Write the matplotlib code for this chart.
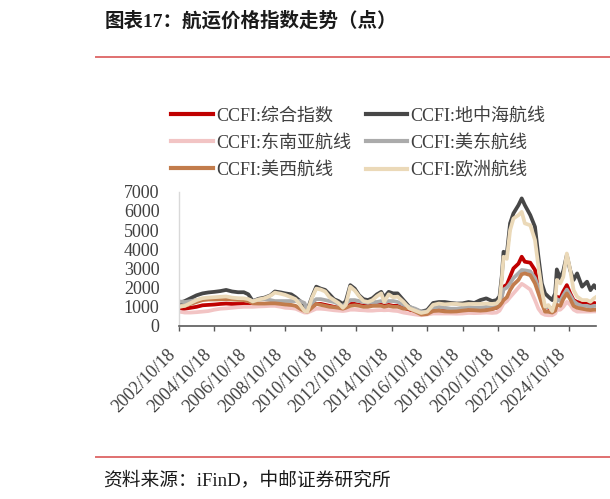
import matplotlib
matplotlib.use("Agg")
import matplotlib.pyplot as plt
import pandas as pd
from matplotlib.lines import Line2D

plt.rcParams['font.family'] = ['Liberation Serif', 'Noto Sans CJK SC', 'DejaVu Sans']

# ---------------- data ----------------
dates = ['2002-10-18', '2003-02-15', '2003-06-15', '2003-10-15', '2004-02-15', '2004-06-15',
         '2004-10-15', '2005-02-15', '2005-06-15', '2005-10-15', '2006-02-15', '2006-06-15',
         '2006-09-15', '2006-12-15', '2007-04-15', '2007-08-15', '2007-12-15', '2008-03-15',
         '2008-07-15', '2008-10-15', '2009-02-15', '2009-05-15', '2009-08-15', '2009-11-15',
         '2010-01-15', '2010-04-15', '2010-07-15', '2010-10-15', '2011-01-15', '2011-04-15',
         '2011-07-15', '2011-10-15', '2012-01-15', '2012-03-15', '2012-06-15', '2012-09-15',
         '2012-12-15', '2013-03-15', '2013-06-15', '2013-09-15', '2013-12-15', '2014-03-15',
         '2014-05-15', '2014-08-15', '2014-11-15', '2015-02-15', '2015-06-15', '2015-10-15',
         '2016-02-15', '2016-06-15', '2016-10-15', '2017-02-15', '2017-06-15', '2017-10-15',
         '2018-02-15', '2018-06-15', '2018-10-15', '2019-02-15', '2019-06-15', '2019-10-15',
         '2020-02-15', '2020-06-15', '2020-09-15', '2020-11-15', '2020-12-31', '2021-02-05',
         '2021-04-15', '2021-06-20', '2021-08-28', '2021-12-10', '2022-02-15', '2022-04-20',
         '2022-08-10', '2022-11-15', '2023-01-25', '2023-04-05', '2023-06-10', '2023-08-18',
         '2023-11-05', '2024-01-05', '2024-02-08', '2024-04-20', '2024-06-20', '2024-09-01',
         '2024-11-10', '2025-01-18', '2025-04-01', '2025-07-12', '2025-10-22', '2026-01-01',
         '2026-03-15', '2026-04-20']

ccfi_composite = [850, 900, 950, 1000, 1080, 1100, 1120, 1150, 1170, 1150, 1150, 1150,
                  1120, 1080, 1100, 1100, 1120, 1130, 1100, 1080, 1050, 1000, 900, 820,
                  780, 1000, 1150, 1150, 1100, 1050, 1000, 950, 900, 950, 1150, 1150,
                  1100, 1050, 1050, 1080, 1100, 1120, 1050, 1100, 1050, 1050, 950, 850,
                  720, 650, 680, 800, 820, 800, 800, 800, 820, 850, 830, 850,
                  880, 900, 950, 1050, 1600, 2050, 2150, 2570, 3000, 3250, 3610, 3350,
                  3300, 2920, 2050, 1300, 1000, 950, 880, 1100, 1530, 1450, 1800, 2130,
                  1700, 1350, 1250, 1200, 1200, 1150, 1200, 1180]
med_route = [1200, 1300, 1450, 1600, 1700, 1750, 1780, 1820, 1880, 1800, 1760, 1760,
             1650, 1300, 1420, 1480, 1600, 1800, 1750, 1700, 1650, 1500, 1300, 850,
             850, 1500, 2050, 1950, 1880, 1650, 1400, 1300, 1150, 1300, 2130, 1950,
             1600, 1400, 1350, 1450, 1650, 1780, 1500, 1780, 1700, 1700, 1350, 1000,
             850, 750, 830, 1200, 1250, 1250, 1200, 1170, 1180, 1250, 1200, 1350,
             1440, 1300, 1350, 1550, 2600, 3870, 3780, 5350, 5870, 6300, 6650, 6300,
             5780, 5170, 3610, 2220, 1700, 1525, 1350, 1700, 2950, 2480, 2880, 3700,
             2900, 2400, 2740, 2050, 2310, 1870, 2130, 2000]
sea_route = [750, 700, 700, 720, 750, 780, 850, 900, 920, 950, 980, 1000,
             1000, 1000, 1020, 1030, 1050, 1050, 1000, 950, 930, 900, 800, 700,
             700, 800, 900, 900, 880, 850, 820, 800, 780, 800, 850, 850,
             830, 820, 800, 800, 820, 830, 820, 830, 800, 780, 700, 650,
             600, 560, 600, 650, 650, 650, 650, 640, 650, 680, 670, 680,
             700, 680, 700, 800, 1000, 1170, 1300, 1500, 1700, 2000, 2200, 2100,
             1900, 1350, 900, 660, 580, 560, 560, 650, 830, 850, 1000, 1260,
             1100, 850, 750, 750, 750, 750, 760, 760]
usec_route = [1280, 1250, 1300, 1350, 1400, 1400, 1420, 1420, 1420, 1400, 1400, 1400,
              1380, 1300, 1380, 1400, 1350, 1300, 1300, 1300, 1300, 1300, 1300, 1200,
              800, 1200, 1400, 1400, 1350, 1300, 1250, 1150, 1050, 1150, 1350, 1350,
              1300, 1250, 1200, 1250, 1250, 1300, 1250, 1300, 1300, 1250, 1100, 1000,
              900, 750, 750, 950, 1000, 950, 900, 900, 950, 1000, 950, 950,
              1000, 950, 1000, 1100, 1500, 1900, 2000, 2220, 2500, 2750, 2920, 2900,
              2850, 2500, 2000, 1400, 950, 1000, 900, 1000, 1400, 1300, 1600, 1900,
              1600, 1300, 1150, 1050, 1050, 1000, 1050, 1050]
uswc_route = [1000, 1050, 1150, 1250, 1350, 1380, 1380, 1390, 1400, 1380, 1360, 1350,
              1300, 1180, 1170, 1170, 1180, 1180, 1150, 1120, 1100, 1050, 900, 780,
              750, 950, 1150, 1100, 1050, 1000, 980, 950, 900, 950, 1050, 1080,
              1050, 1000, 1000, 1050, 1050, 1050, 1000, 1050, 1000, 1000, 900, 900,
              750, 600, 620, 780, 800, 760, 750, 760, 800, 830, 820, 800,
              820, 880, 950, 1050, 1200, 1350, 1500, 1870, 2150, 2400, 2700, 2740,
              2650, 2220, 1700, 1170, 750, 740, 700, 800, 1100, 1050, 1400, 1700,
              1400, 1050, 950, 900, 850, 830, 850, 850]
eu_route = [1000, 1050, 1200, 1350, 1450, 1480, 1500, 1520, 1540, 1480, 1450, 1440,
            1400, 1280, 1380, 1450, 1580, 1740, 1680, 1620, 1500, 1400, 1100, 780,
            750, 1450, 1950, 1900, 1800, 1500, 1350, 1200, 950, 1100, 2050, 1850,
            1550, 1300, 1250, 1350, 1550, 1700, 1250, 1650, 1500, 1530, 1260, 920,
            800, 680, 745, 1100, 1170, 1130, 1150, 1150, 1120, 1150, 1150, 1150,
            1170, 1150, 1180, 1350, 2400, 3610, 3500, 4990, 5600, 5780, 5950, 5350,
            5250, 4480, 3090, 1870, 1010, 1090, 780, 1300, 2400, 2220, 2560, 3780,
            2910, 1870, 1530, 1350, 1350, 1260, 1440, 1500]

series_names = ['CCFI:综合指数', 'CCFI:地中海航线', 'CCFI:东南亚航线',
                'CCFI:美东航线', 'CCFI:美西航线', 'CCFI:欧洲航线']
series_values = [ccfi_composite, med_route, sea_route, usec_route, uswc_route, eu_route]
series_colors = ['#C00000', '#474747', '#F2C4C4', '#ABABAB', '#C27C4C', '#EBD9B8']

tick_dates = ['2002-10-18', '2004-10-18', '2006-10-18', '2008-10-18', '2010-10-18', '2012-10-18',
              '2014-10-18', '2016-10-18', '2018-10-18', '2020-10-18', '2022-10-18', '2024-10-18']
tick_labels = ['2002/10/18', '2004/10/18', '2006/10/18', '2008/10/18', '2010/10/18', '2012/10/18',
               '2014/10/18', '2016/10/18', '2018/10/18', '2020/10/18', '2022/10/18', '2024/10/18']
y_ticks = [0, 1000, 2000, 3000, 4000, 5000, 6000, 7000]

title = '图表17：航运价格指数走势（点）'
source = '资料来源：iFinD，中邮证券研究所'

# ---------------- figure ----------------
W, H = 610, 499
fig = plt.figure(figsize=(W / 100, H / 100), dpi=100)
ax = fig.add_axes([179 / W, 1 - 326 / H, (596 - 179) / W, (326 - 191.7) / H])

x = pd.to_datetime(dates)
for name, vals, col in zip(series_names, series_values, series_colors):
    ax.plot(x, vals, color=col, lw=2.7, label=name, solid_joinstyle='round')

ax.set_xlim(pd.Timestamp('2002-10-18'), pd.Timestamp('2026-04-25'))
ax.set_ylim(0, 7000)
ax.set_yticks(y_ticks)
ax.set_yticklabels([str(v) for v in y_ticks], fontsize=13, color='#404040')
ax.tick_params(axis='y', length=0, pad=14)
ax.set_xticks(pd.to_datetime(tick_dates))
ax.set_xticklabels(tick_labels, rotation=45, ha='right', fontsize=13, color='#404040')
ax.tick_params(axis='x', direction='out', length=3.6, width=1, color='#595959', pad=11)

for s in ['top', 'right']:
    ax.spines[s].set_visible(False)
ax.spines['left'].set_color('#D9D9D9')
ax.spines['left'].set_linewidth(1)
ax.spines['bottom'].set_color('#595959')
ax.spines['bottom'].set_linewidth(1.2)
ax.set_facecolor('none')

# legend (row-wise order: matplotlib fills column by column)
order = [0, 2, 4, 1, 3, 5]
handles = [Line2D([0], [0], color=series_colors[i], lw=3) for i in order]
labels = [series_names[i] for i in order]
leg = fig.legend(handles, labels, loc='upper left',
                 bbox_to_anchor=(171 / W, 1 - 107.5 / H), ncol=2, frameon=False,
                 fontsize=13, handlelength=2.3, handletextpad=0.2,
                 columnspacing=0.8, labelspacing=0.56, borderpad=0, borderaxespad=0)
for t in leg.get_texts():
    t.set_color('#404040')

# title, rules and source
fig.text(105 / W, 1 - 21 / H, title, fontsize=14, fontweight='bold',
         ha='left', va='center', color='#1a1a1a')
fig.add_artist(Line2D([96 / W, 1], [1 - 57.3 / H] * 2, color='#E07070', lw=1.4))
fig.add_artist(Line2D([96 / W, 1], [1 - 457.3 / H] * 2, color='#E07070', lw=1.4))
fig.text(103 / W, 1 - 480 / H, source, fontsize=13.5, ha='left', va='center', color='#1a1a1a')

fig.savefig('out.png', dpi=100)
